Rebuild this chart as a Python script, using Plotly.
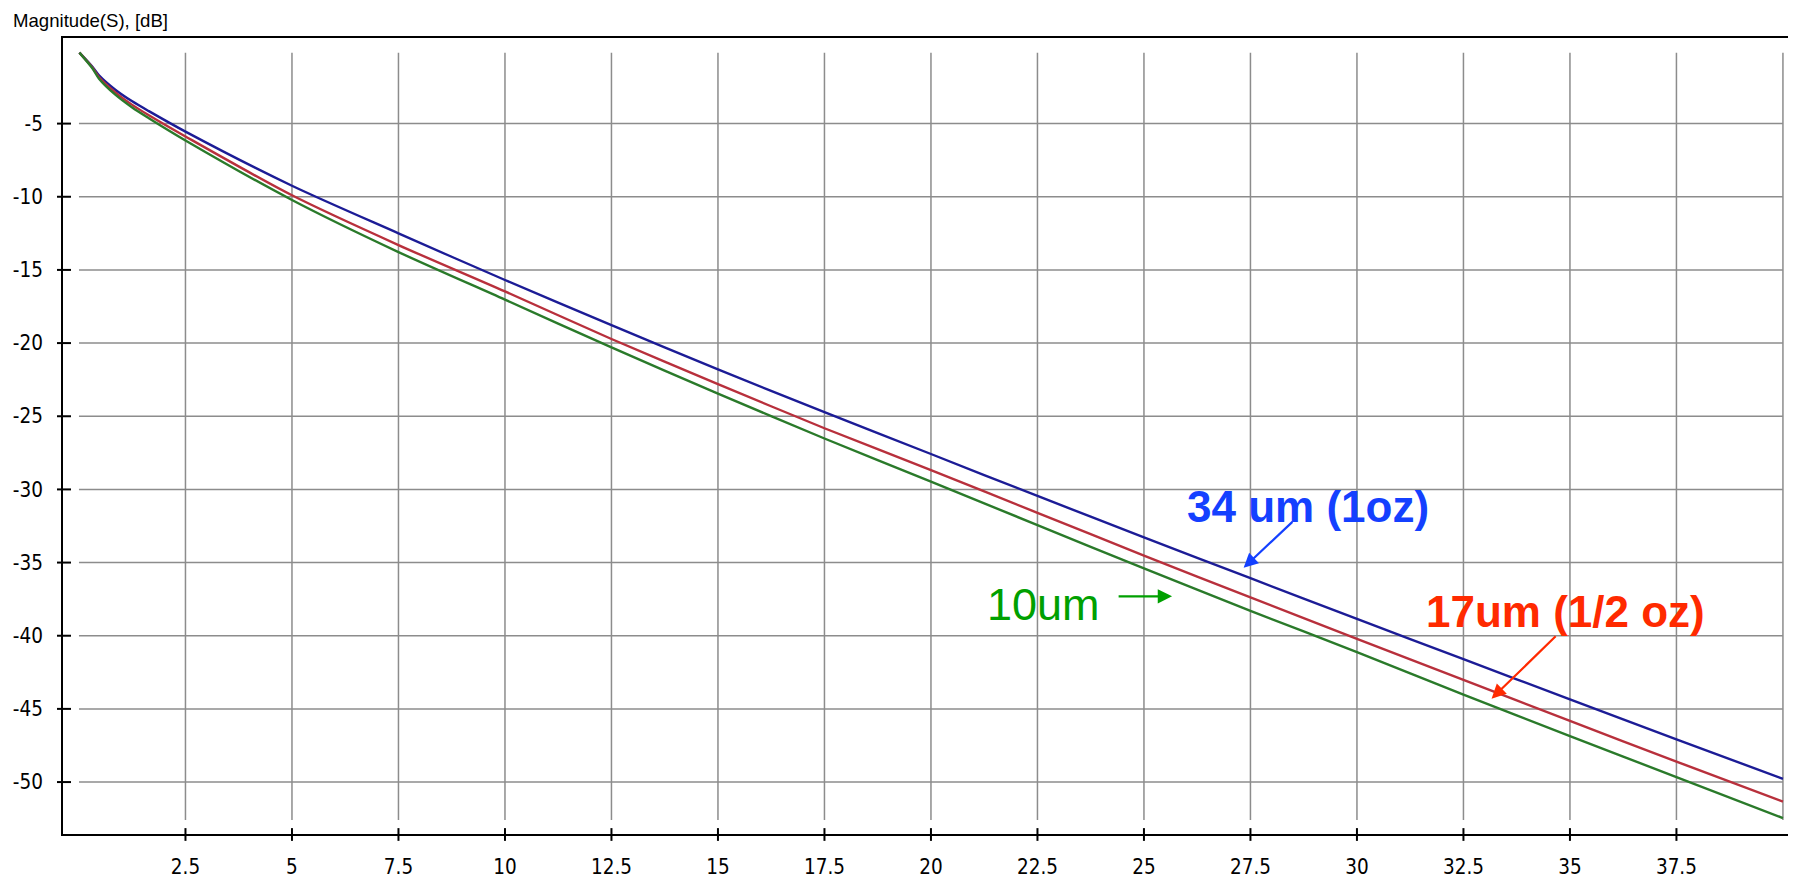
import plotly.graph_objects as go

# ---------------- data ----------------
FREQ = [0.01, 0.31, 0.47, 0.86, 1.25, 1.64, 2.5, 5, 7.5, 10, 12.5, 15, 17.5,
        20, 22.5, 25, 27.5, 30, 32.5, 35, 37.5, 40]
MAG_34UM = [-0.15, -1.10, -1.70, -2.70, -3.48, -4.15, -5.55, -9.25, -12.50,
            -15.69, -18.78, -21.80, -24.72, -27.58, -30.45, -33.27, -36.07,
            -38.85, -41.60, -44.35, -47.08, -49.78]
MAG_17UM = [-0.15, -1.15, -1.83, -2.88, -3.72, -4.43, -5.88, -9.90, -13.30,
            -16.47, -19.72, -22.80, -25.82, -28.68, -31.60, -34.52, -37.38,
            -40.22, -43.02, -45.82, -48.60, -51.34]
MAG_10UM = [-0.15, -1.20, -1.93, -3.04, -3.90, -4.63, -6.15, -10.22, -13.78,
            -17.03, -20.30, -23.45, -26.52, -29.47, -32.44, -35.40, -38.30,
            -41.12, -44.03, -46.86, -49.66, -52.46]

X_TICKS = [2.5, 5, 7.5, 10, 12.5, 15, 17.5, 20, 22.5, 25, 27.5, 30, 32.5, 35, 37.5]
Y_TICKS = [-5, -10, -15, -20, -25, -30, -35, -40, -45, -50]

LABELS = ["34 um (1oz)", "17um (1/2 oz)", "10um"]
LABEL_POS = [(28.85, -31.17), (34.90, -38.31), (22.64, -37.88)]
ARROW_TAIL = [(28.52, -32.12), (34.70, -39.94), (24.37, -37.31)]
ARROW_HEAD = [(27.34, -35.36), (33.16, -44.30), (25.66, -37.31)]

TITLE = "Magnitude(S), [dB]"

# ---------------- styling ----------------
W, H = 1796, 876
ML, MR, MT, MB = 54, 5, 30, 35
PW, PH = W - ML - MR, H - MT - MB

LINE_COLORS = ["#1c1c96", "#b8303c", "#2a7a2a"]
TEXT_COLORS = ["#1440ff", "#ff2a00", "#00a000"]
TEXT_BOLD = [True, True, False]
GRID = "#8c8c8c"
TICK_FONT = dict(family="Liberation Sans Narrow, Arial Narrow, DejaVu Sans Condensed, sans-serif",
                 size=20.5, color="#000000")

fig = go.Figure()
for ys, col, name in zip([MAG_34UM, MAG_17UM, MAG_10UM], LINE_COLORS, LABELS):
    fig.add_trace(go.Scatter(x=FREQ, y=ys, mode="lines", name=name,
                             line=dict(color=col, width=2.4, shape="spline", smoothing=0.8)))

shapes = []
# grid lines (inset like the original tool draws them)
for xv in X_TICKS + [40]:
    shapes.append(dict(type="line", xref="x", yref="y", x0=xv, x1=xv, y0=-0.15, y1=-52.6,
                       line=dict(color=GRID, width=1.5), layer="below"))
for yv in Y_TICKS:
    shapes.append(dict(type="line", xref="x", yref="y", x0=0, x1=40, y0=yv, y1=yv,
                       line=dict(color=GRID, width=1.5), layer="below"))
# tick marks crossing the axes
for yv in Y_TICKS:
    shapes.append(dict(type="line", xref="paper", yref="y", x0=-6 / PW, x1=8 / PW, y0=yv, y1=yv,
                       line=dict(color="#000000", width=2)))
for xv in X_TICKS:
    shapes.append(dict(type="line", xref="x", yref="paper", x0=xv, x1=xv, y0=-7 / PH, y1=6 / PH,
                       line=dict(color="#000000", width=2)))

annotations = [dict(text=TITLE, xref="paper", yref="paper", x=-52 / PW, y=1 + 18 / PH,
                    xanchor="left", yanchor="middle", showarrow=False,
                    font=dict(family="Liberation Sans, Arial, sans-serif", size=18.6, color="#000000"))]
for lab, (lx, ly), (tx, ty), (hx, hy), tc, bold in zip(LABELS, LABEL_POS, ARROW_TAIL,
                                                        ARROW_HEAD, TEXT_COLORS, TEXT_BOLD):
    txt = f"<b>{lab}</b>" if bold else lab
    annotations.append(dict(text=txt, x=lx, y=ly, xref="x", yref="y", showarrow=False,
                            xanchor="center", yanchor="middle",
                            font=dict(family="Liberation Sans, Arial, sans-serif",
                                      size=44 if bold else 45, color=tc)))
    annotations.append(dict(text="", x=hx, y=hy, ax=tx, ay=ty, xref="x", yref="y",
                            axref="x", ayref="y", showarrow=True, arrowhead=2,
                            arrowsize=1.3, arrowwidth=2.2, arrowcolor=tc, standoff=0))

fig.update_layout(
    width=W, height=H,
    margin=dict(l=ML, r=MR, t=MT, b=MB),
    paper_bgcolor="#ffffff", plot_bgcolor="#ffffff",
    showlegend=False,
    shapes=shapes,
    annotations=annotations,
    xaxis=dict(range=[-0.375, 40.33], tickvals=X_TICKS, ticktext=[f"{v:g}" for v in X_TICKS],
               showgrid=False, zeroline=False, showline=True, linecolor="#000000", linewidth=2,
               mirror=True, ticks="outside", ticklen=13, tickcolor="rgba(0,0,0,0)",
               tickfont=TICK_FONT),
    yaxis=dict(range=[-53.55, 0.85], tickvals=Y_TICKS, ticktext=[f"{v:g}" for v in Y_TICKS],
               showgrid=False, zeroline=False, showline=True, linecolor="#000000", linewidth=2,
               mirror=True, ticks="outside", ticklen=14, tickcolor="rgba(0,0,0,0)",
               tickfont=TICK_FONT),
)

fig.write_html("out.html")
